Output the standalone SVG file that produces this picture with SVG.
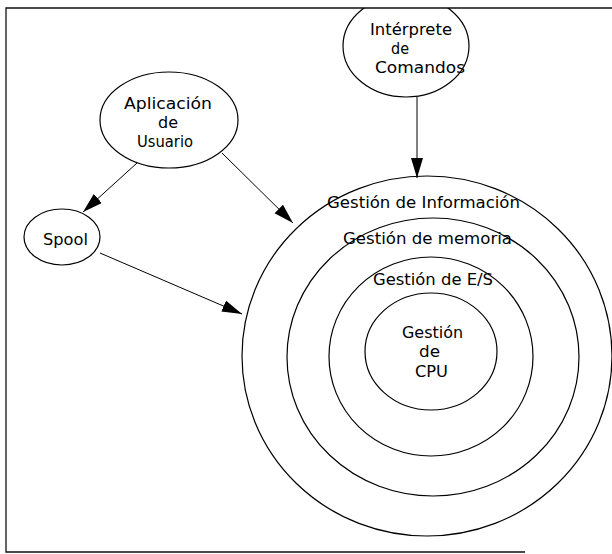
<svg xmlns="http://www.w3.org/2000/svg" width="612" height="554" viewBox="0 0 612 554">
<style>
  .shape { fill: none; stroke: #000; stroke-width: 1.2; }
  .frame { fill: none; stroke: #111; stroke-width: 1.3; }
  .conn { fill: none; stroke: #000; stroke-width: 1; }
  text { font-family: "DejaVu Sans", "Liberation Sans", sans-serif; font-size: 16px; fill: #000; }
  .small { font-size: 15px; }
</style>
<defs>
  <marker id="arrow" markerUnits="userSpaceOnUse" markerWidth="22" markerHeight="14" refX="20" refY="6" orient="auto">
    <path d="M0,0 L20,6 L0,12 z" fill="#000"/>
  </marker>
  <clipPath id="inside">
    <rect x="6" y="8" width="606" height="546"/>
  </clipPath>
</defs>
<rect width="612" height="554" fill="#fff"/>
<g id="frame">
  <polyline class="frame" points="612,8 6,8 6,552 525,552"/>
</g>
<g id="interprete" clip-path="url(#inside)">
  <ellipse class="shape" cx="406" cy="46" rx="63" ry="51"/>
  <text class="small" x="370" y="35" textLength="82" lengthAdjust="spacingAndGlyphs">Intérprete</text>
  <text class="small" x="391" y="54" textLength="18" lengthAdjust="spacingAndGlyphs">de</text>
  <text class="small" x="375" y="73" textLength="90" lengthAdjust="spacingAndGlyphs">Comandos</text>
</g>
<g id="aplicacion">
  <ellipse class="shape" cx="169" cy="120" rx="69" ry="48"/>
  <text x="124" y="109" textLength="88" lengthAdjust="spacingAndGlyphs">Aplicación</text>
  <text x="158" y="128" textLength="20" lengthAdjust="spacingAndGlyphs">de</text>
  <text x="137" y="147" textLength="56" lengthAdjust="spacingAndGlyphs">Usuario</text>
</g>
<g id="spool">
  <ellipse class="shape" cx="62" cy="237" rx="38" ry="28"/>
  <text x="43" y="245" textLength="45" lengthAdjust="spacingAndGlyphs">Spool</text>
</g>
<g id="gestion-informacion">
  <ellipse class="shape" cx="427" cy="356" rx="185" ry="180"/>
  <text x="327" y="208" textLength="193" lengthAdjust="spacingAndGlyphs">Gestión de Información</text>
</g>
<g id="gestion-memoria">
  <ellipse class="shape" cx="433" cy="357" rx="146" ry="139"/>
  <text x="343" y="244" textLength="169" lengthAdjust="spacingAndGlyphs">Gestión de memoria</text>
</g>
<g id="gestion-es">
  <ellipse class="shape" cx="431" cy="356.5" rx="102" ry="99.5"/>
  <text x="373" y="285" textLength="120" lengthAdjust="spacingAndGlyphs">Gestión de E/S</text>
</g>
<g id="gestion-cpu">
  <ellipse class="shape" cx="431" cy="351.5" rx="66" ry="58.5"/>
  <text x="402" y="338" textLength="61" lengthAdjust="spacingAndGlyphs">Gestión</text>
  <text x="419" y="357" textLength="21" lengthAdjust="spacingAndGlyphs">de</text>
  <text x="415" y="377" textLength="33" lengthAdjust="spacingAndGlyphs">CPU</text>
</g>
<g id="connectors">
  <line class="conn" x1="137" y1="163" x2="83" y2="212" marker-end="url(#arrow)"/>
  <line class="conn" x1="222" y1="153" x2="293" y2="223" marker-end="url(#arrow)"/>
  <line class="conn" x1="100" y1="253" x2="242" y2="314" marker-end="url(#arrow)"/>
  <line class="conn" x1="417" y1="97" x2="417" y2="178" marker-end="url(#arrow)"/>
</g>
</svg>
